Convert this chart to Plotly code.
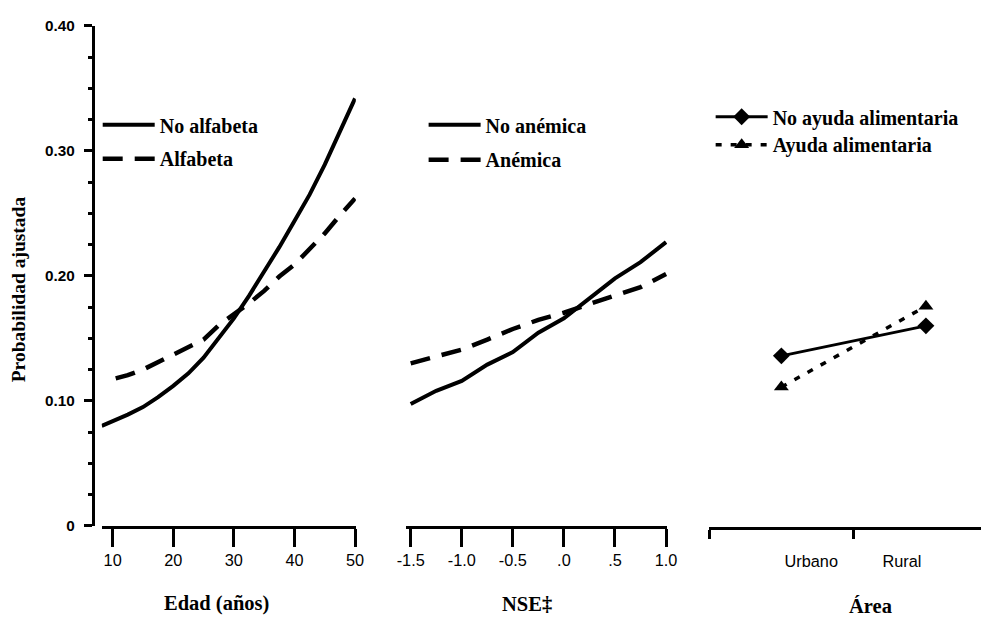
import plotly.graph_objects as go

# ---------------- data ----------------
edad_solid = [8.2, 10, 12.5, 15, 17.5, 20, 22.5, 25, 27.5, 30, 32.5, 35, 37.5, 40, 42.5, 45, 47.5, 50]
no_alfabeta = [0.080, 0.0835, 0.089, 0.095, 0.103, 0.112, 0.122, 0.1345, 0.150, 0.166, 0.184, 0.203,
               0.223, 0.244, 0.265, 0.289, 0.3155, 0.342]
edad_dash = [10.5, 12.5, 15, 17.5, 20, 22.5, 25, 27.5, 30, 32.5, 35, 37.5, 40, 42.5, 45, 47.5, 50]
alfabeta = [0.118, 0.1205, 0.125, 0.131, 0.137, 0.1425, 0.149, 0.1605, 0.169, 0.178, 0.188, 0.1995,
            0.209, 0.2215, 0.234, 0.2485, 0.262]

nse = [-1.5, -1.25, -1.0, -0.75, -0.5, -0.25, 0.0, 0.25, 0.5, 0.75, 1.0]
no_anemica = [0.0975, 0.108, 0.116, 0.129, 0.139, 0.1545, 0.166, 0.1815, 0.198, 0.211, 0.227]
anemica = [0.130, 0.1355, 0.141, 0.149, 0.1575, 0.1648, 0.1705, 0.1775, 0.184, 0.191, 0.2015]

area = ["Urbano", "Rural"]
area_idx = [0, 1]
no_ayuda = [0.136, 0.160]
ayuda = [0.111, 0.1757]

edad_ticks = [10, 20, 30, 40, 50]
nse_ticks = [-1.5, -1.0, -0.5, 0.0, 0.5, 1.0]
nse_ticktext = ["-1.5", "-1.0", "-0.5", ".0", ".5", "1.0"]
y_ticks = [0, 0.10, 0.20, 0.30, 0.40]
y_ticktext = ["0", "0.10", "0.20", "0.30", "0.40"]

# ---------------- layout helpers ----------------
W, H = 991, 618
OFF = 8
KX, KY = 991 / 1007, 618 / 634   # page margin compensation
def fx(t):
    return ((t - OFF) / KX) / W
def fy(t):
    return 1 - ((t - OFF) / KY) / H

SERIF = "Liberation Serif"
SANS = "Liberation Sans"

fig = go.Figure()

fig.add_trace(go.Scatter(x=edad_solid, y=no_alfabeta, mode="lines", name="No alfabeta",
                         line=dict(color="black", width=4), xaxis="x", yaxis="y", legend="legend"))
fig.add_trace(go.Scatter(x=edad_dash, y=alfabeta, mode="lines", name="Alfabeta",
                         line=dict(color="black", width=4.5, dash="20px,12px"), xaxis="x", yaxis="y",
                         legend="legend2"))
fig.add_trace(go.Scatter(x=nse, y=no_anemica, mode="lines", name="No anémica",
                         line=dict(color="black", width=4), xaxis="x2", yaxis="y", legend="legend3"))
fig.add_trace(go.Scatter(x=nse, y=anemica, mode="lines", name="Anémica",
                         line=dict(color="black", width=4.5, dash="20px,12px"), xaxis="x2", yaxis="y",
                         legend="legend4"))
fig.add_trace(go.Scatter(x=area_idx, y=no_ayuda, mode="lines+markers", name="No ayuda alimentaria",
                         line=dict(color="black", width=3),
                         marker=dict(symbol="diamond", size=13, color="black"),
                         xaxis="x3", yaxis="y", legend="legend5"))
fig.add_trace(go.Scatter(x=area_idx, y=ayuda, mode="lines+markers", name="Ayuda alimentaria",
                         line=dict(color="black", width=3.5, dash="6px,9px"),
                         marker=dict(symbol="triangle-up", size=13, color="black"),
                         xaxis="x3", yaxis="y", legend="legend6"))

ytop, ybot = 25, 526
tickfont_x = dict(family=SANS, size=16.3, color="black")

legend_common = dict(bgcolor="rgba(0,0,0,0)", borderwidth=0, xanchor="left", yanchor="middle",
                     font=dict(family=SERIF, size=20, color="black", weight="bold"),
                     itemwidth=52, itemclick=False, itemdoubleclick=False)

def leg(x, y):
    d = dict(legend_common)
    d.update(x=fx(x), y=fy(y))
    return d

x3_right = (OFF + KX * W - 783) / 145 + 0.0

fig.update_layout(
    width=W, height=H,
    margin=dict(l=0, r=0, t=0, b=0),
    paper_bgcolor="white", plot_bgcolor="white",
    showlegend=True,
    xaxis=dict(domain=[fx(101), fx(356)], range=[8.19, 50.13], anchor="y",
               showgrid=False, zeroline=False, showline=True, linecolor="black", linewidth=3,
               tickmode="array", tickvals=edad_ticks, ticks="outside", ticklen=18, tickwidth=3,
               tickcolor="black", tickfont=tickfont_x),
    xaxis2=dict(domain=[fx(406), fx(668.3)], range=[-1.549, 1.010], anchor="y",
                showgrid=False, zeroline=False, showline=True, linecolor="black", linewidth=3,
                tickmode="array", tickvals=nse_ticks, ticktext=nse_ticktext, ticks="outside",
                ticklen=18, tickwidth=3, tickcolor="black", tickfont=tickfont_x),
    xaxis3=dict(domain=[fx(710), 1.0], range=[-0.503, x3_right], anchor="free", position=fy(528),
                showgrid=False, zeroline=False, showline=True, linecolor="black", linewidth=2.5,
                tickmode="array", tickvals=[0.207, 0.834], ticktext=area, ticks="outside",
                ticklen=18, tickcolor="rgba(0,0,0,0)", tickfont=tickfont_x,
                minor=dict(tickmode="array", tickvals=[-0.5, 0.5], ticks="outside", ticklen=9,
                           tickwidth=2.5, tickcolor="black", showgrid=False)),
    yaxis=dict(domain=[fy(ybot), fy(ytop)], range=[0, 0.40], anchor="free", position=fx(92),
               showgrid=False, zeroline=False, showline=True, linecolor="black", linewidth=3,
               tickmode="array", tickvals=y_ticks, ticktext=y_ticktext, ticks="outside",
               ticklen=8, tickwidth=2.5, tickcolor="black",
               tickfont=dict(family=SANS, size=15.3, color="black", weight="bold"),
               ticklabelstandoff=6,
               minor=dict(dtick=0.025, ticks="outside", ticklen=4, tickwidth=2.5,
                          tickcolor="black", showgrid=False)),
    legend=leg(97, 124),
    legend2=leg(97, 158),
    legend3=leg(424, 124),
    legend4=leg(424, 159),
    legend5=leg(712, 116),
    legend6=leg(712, 144),
)

title_font = dict(family=SERIF, size=20.5, color="black", weight="bold")
fig.add_annotation(text="Edad (años)", x=fx(216), y=fy(604), xref="paper", yref="paper",
                   showarrow=False, font=title_font, xanchor="center", yanchor="middle")
fig.add_annotation(text="NSE‡", x=fx(528), y=fy(604), xref="paper", yref="paper",
                   showarrow=False, font=title_font, xanchor="center", yanchor="middle")
fig.add_annotation(text="Área", x=fx(872), y=fy(606), xref="paper", yref="paper",
                   showarrow=False, font=title_font, xanchor="center", yanchor="middle")
fig.add_annotation(text="Probabilidad ajustada", x=fx(17), y=fy(289), xref="paper", yref="paper",
                   showarrow=False, textangle=-90,
                   font=dict(family=SERIF, size=19.5, color="black", weight="bold"),
                   xanchor="center", yanchor="middle")

fig.write_html("out.html")
